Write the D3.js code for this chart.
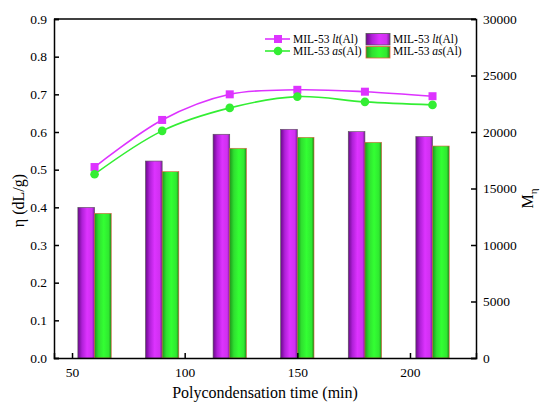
<!DOCTYPE html>
<html>
<head>
<meta charset="utf-8">
<script src="https://cdn.jsdelivr.net/npm/d3@7"></script>
<style>
  body { margin: 0; background: #fff; }
  svg text { font-family: "Liberation Serif", "Times New Roman", serif; }
</style>
</head>
<body>
<div id="chart"></div>
<script>
// data
var times = [60, 90, 120, 150, 180, 210];
var etaLt = [0.507, 0.632, 0.700, 0.712, 0.707, 0.695];
var etaAs = [0.488, 0.603, 0.664, 0.694, 0.680, 0.672];
var mLt = [13330, 17430, 19800, 20240, 20030, 19590];
var mAs = [12800, 16490, 18560, 19530, 19090, 18760];
var xTicks = [50, 100, 150, 200];
var yTicks = [0, 0.1, 0.2, 0.3, 0.4, 0.5, 0.6, 0.7, 0.8, 0.9];
var y2Ticks = [0, 5000, 10000, 15000, 20000, 25000, 30000];

var W = 547, H = 407;
var margin = {top: 19, right: 71, bottom: 49, left: 54};
var width = W - margin.left - margin.right;
var height = H - margin.top - margin.bottom;

var svg = d3.select("#chart").append("svg")
    .attr("width", W)
    .attr("height", H);

var defs = svg.append("defs");
function grad(id, stops) {
  var g = defs.append("linearGradient").attr("id", id)
      .attr("x1", "0%").attr("x2", "100%").attr("y1", "0%").attr("y2", "0%");
  stops.forEach(function(s) {
    g.append("stop").attr("offset", s[0]).attr("stop-color", s[1]);
  });
}
grad("gPurple", [["0%", "#6a0a8a"], ["25%", "#b020d8"], ["55%", "#dd33ff"], ["85%", "#d030f0"], ["100%", "#7a1a9a"]]);
grad("gGreen", [["0%", "#1c9a1c"], ["25%", "#30e030"], ["55%", "#33ff33"], ["85%", "#30e830"], ["100%", "#1a8a1a"]]);

var g = svg.append("g")
    .attr("transform", "translate(" + margin.left + "," + margin.top + ")");

var x = d3.scaleLinear().domain([42, 229.3]).range([0, width]);
var y = d3.scaleLinear().domain([0, 0.9]).range([height, 0]);
var y2 = d3.scaleLinear().domain([0, 30000]).range([height, 0]);

var bw = x(7.4) - x(0);

// bars (Mη, right axis)
g.selectAll(".barLt")
  .data(times)
  .enter().append("rect")
  .attr("x", function(d) { return x(d) - bw; })
  .attr("y", function(d, i) { return y2(mLt[i]); })
  .attr("width", bw)
  .attr("height", function(d, i) { return height - y2(mLt[i]); })
  .attr("fill", "url(#gPurple)")
  .attr("stroke", "#555")
  .attr("stroke-width", 0.6);

g.selectAll(".barAs")
  .data(times)
  .enter().append("rect")
  .attr("x", function(d) { return x(d); })
  .attr("y", function(d, i) { return y2(mAs[i]); })
  .attr("width", bw)
  .attr("height", function(d, i) { return height - y2(mAs[i]); })
  .attr("fill", "url(#gGreen)")
  .attr("stroke", "#e06040")
  .attr("stroke-width", 0.6);

// lines (η, left axis)
var line = d3.line()
    .x(function(d) { return x(d[0]); })
    .y(function(d) { return y(d[1]); })
    .curve(d3.curveCatmullRom);

var ptsLt = times.map(function(t, i) { return [t, etaLt[i]]; });
var ptsAs = times.map(function(t, i) { return [t, etaAs[i]]; });

g.append("path").datum(ptsLt)
  .attr("d", line).attr("fill", "none")
  .attr("stroke", "#dd33ff").attr("stroke-width", 1.6);
g.append("path").datum(ptsAs)
  .attr("d", line).attr("fill", "none")
  .attr("stroke", "#33ee33").attr("stroke-width", 1.6);

g.selectAll(".sq").data(ptsLt).enter().append("rect")
  .attr("x", function(d) { return x(d[0]) - 4; })
  .attr("y", function(d) { return y(d[1]) - 4; })
  .attr("width", 8).attr("height", 8)
  .attr("fill", "#dd33ff");
g.selectAll(".ci").data(ptsAs).enter().append("circle")
  .attr("cx", function(d) { return x(d[0]); })
  .attr("cy", function(d) { return y(d[1]); })
  .attr("r", 4.3)
  .attr("fill", "#33ee33");

// axes
var xAxis = d3.axisBottom(x).tickValues(xTicks).tickSize(-5).tickPadding(9);
var gx = g.append("g").attr("transform", "translate(0," + height + ")").call(xAxis);
var yAxis = d3.axisLeft(y).tickValues(yTicks).tickSize(-5).tickPadding(7).tickFormat(d3.format(".1f"));
var gy = g.append("g").call(yAxis);
var y2Axis = d3.axisRight(y2).tickValues(y2Ticks).tickSize(-5).tickPadding(7).tickFormat(d3.format("d"));
var gy2 = g.append("g").attr("transform", "translate(" + width + ",0)").call(y2Axis);

[gx, gy, gy2].forEach(function(a) {
  a.attr("font-family", "Liberation Serif").attr("font-size", 13.5);
  a.select(".domain").attr("stroke", "#000").attr("stroke-width", 1.5);
  a.selectAll(".tick line").attr("stroke", "#000").attr("stroke-width", 1.5);
  a.selectAll("text").attr("fill", "#000");
});

// top frame
g.append("line").attr("x1", 0).attr("x2", width).attr("y1", 0).attr("y2", 0)
  .attr("stroke", "#000").attr("stroke-width", 1.5);

// axis titles
svg.append("text")
  .attr("x", margin.left + width / 2).attr("y", 398)
  .attr("text-anchor", "middle").attr("font-size", "16px")
  .text("Polycondensation time (min)");

svg.append("text")
  .attr("transform", "translate(24," + (margin.top + height / 2 + 12) + ") rotate(-90)")
  .attr("text-anchor", "middle").attr("font-size", "16px")
  .text("η (dL/g)");

var mt = svg.append("text")
  .attr("transform", "translate(533," + (margin.top + height / 2 + 10) + ") rotate(-90)")
  .attr("text-anchor", "middle").attr("font-size", "16px");
mt.append("tspan").text("M");
mt.append("tspan").attr("font-size", "11px").attr("dy", 4).text("η");

// legend
var legRows = [
  {name: "lt", color: "#dd33ff", shape: "sq", grad: "url(#gPurple)", stroke: "#555"},
  {name: "as", color: "#33ee33", shape: "ci", grad: "url(#gGreen)", stroke: "#e06040"}
];
var leg = svg.append("g");
legRows.forEach(function(r, i) {
  var yy = 39 + i * 12;
  leg.append("line").attr("x1", 265).attr("x2", 290).attr("y1", yy).attr("y2", yy)
    .attr("stroke", r.color).attr("stroke-width", 1.6);
  if (r.shape === "sq") {
    leg.append("rect").attr("x", 274).attr("y", yy - 4).attr("width", 8).attr("height", 8).attr("fill", r.color);
  } else {
    leg.append("circle").attr("cx", 278).attr("cy", yy).attr("r", 4.3).attr("fill", r.color);
  }
  var t = leg.append("text").attr("x", 293).attr("y", yy + 4).attr("font-size", "11.5px");
  t.append("tspan").text("MIL-53 ");
  t.append("tspan").attr("font-style", "italic").text(r.name);
  t.append("tspan").text("(Al)");

  leg.append("rect").attr("x", 366).attr("y", 33.5 + i * 13).attr("width", 24).attr("height", 11.5)
    .attr("fill", r.grad).attr("stroke", r.stroke).attr("stroke-width", 0.8);
  var t2 = leg.append("text").attr("x", 393).attr("y", yy + 4).attr("font-size", "11.5px");
  t2.append("tspan").text("MIL-53 ");
  t2.append("tspan").attr("font-style", "italic").text(r.name);
  t2.append("tspan").text("(Al)");
});
</script>
</body>
</html>
